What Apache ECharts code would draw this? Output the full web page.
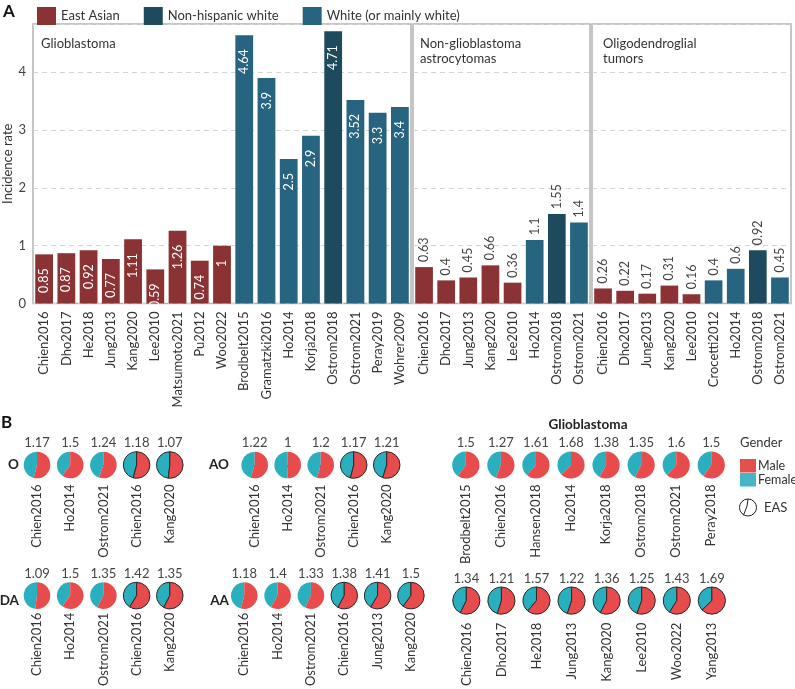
<!DOCTYPE html>
<html><head><meta charset="utf-8">
<script src="https://cdn.jsdelivr.net/npm/echarts@6/dist/echarts.min.js"></script>
<style>html,body{margin:0;padding:0;background:#fff}#c{width:795px;height:689px}</style>
</head><body><div id="c"></div>
<script>
// ---------- Panel A data ----------
const gbStudies = ["Chien2016","Dho2017","He2018","Jung2013","Kang2020","Lee2010","Matsumoto2021","Pu2012","Woo2022","Brodbelt2015","Gramatzki2016","Ho2014","Korja2018","Ostrom2018","Ostrom2021","Peray2019","Wohrer2009"];
const gbRates = [0.85,0.87,0.92,0.77,1.11,0.59,1.26,0.74,1,4.64,3.9,2.5,2.9,4.71,3.52,3.3,3.4];
const gbGroups = ["EA","EA","EA","EA","EA","EA","EA","EA","EA","W","W","W","W","NHW","W","W","W"];

const ngaStudies = ["Chien2016","Dho2017","Jung2013","Kang2020","Lee2010","Ho2014","Ostrom2018","Ostrom2021"];
const ngaRates = [0.63,0.4,0.45,0.66,0.36,1.1,1.55,1.4];
const ngaGroups = ["EA","EA","EA","EA","EA","W","NHW","W"];

const oliStudies = ["Chien2016","Dho2017","Jung2013","Kang2020","Lee2010","Crocetti2012","Ho2014","Ostrom2018","Ostrom2021"];
const oliRates = [0.26,0.22,0.17,0.31,0.16,0.4,0.6,0.92,0.45];
const oliGroups = ["EA","EA","EA","EA","EA","W","W","NHW","W"];

const yTicks = [0,1,2,3,4];
const groupKeys = ["EA","NHW","W"];
const groupNames = {EA:"East Asian", NHW:"Non-hispanic white", W:"White (or mainly white)"};

// ---------- Panel B data (male:female ratio) ----------
const oStudies = ["Chien2016","Ho2014","Ostrom2021","Chien2016","Kang2020"];
const oRatios = [1.17,1.5,1.24,1.18,1.07];
const oEas = [0,0,0,1,1];
const aoStudies = ["Chien2016","Ho2014","Ostrom2021","Chien2016","Kang2020"];
const aoRatios = [1.22,1,1.2,1.17,1.21];
const aoEas = [0,0,0,1,1];
const daStudies = ["Chien2016","Ho2014","Ostrom2021","Chien2016","Kang2020"];
const daRatios = [1.09,1.5,1.35,1.42,1.35];
const daEas = [0,0,0,1,1];
const aaStudies = ["Chien2016","Ho2014","Ostrom2021","Chien2016","Jung2013","Kang2020"];
const aaRatios = [1.18,1.4,1.33,1.38,1.41,1.5];
const aaEas = [0,0,0,1,1,1];
const gbwStudies = ["Brodbelt2015","Chien2016","Hansen2018","Ho2014","Korja2018","Ostrom2018","Ostrom2021","Peray2018"];
const gbwRatios = [1.5,1.27,1.61,1.68,1.38,1.35,1.6,1.5];
const gbwEas = [0,0,0,0,0,0,0,0];
const gbeStudies = ["Chien2016","Dho2017","He2018","Jung2013","Kang2020","Lee2010","Woo2022","Yang2013"];
const gbeRatios = [1.34,1.21,1.57,1.22,1.36,1.25,1.43,1.69];
const gbeEas = [1,1,1,1,1,1,1,1];

// ---------- styles ----------
const FONT = "Lato";
const COLORS = {EA:"#8B3234", NHW:"#1E4A5E", W:"#27647F"};
const MALE = "#E84B4B", FEMALE = "#2AAFBF";
const TXT = "#333";

const panelsA = [
  {studies:gbStudies, rates:gbRates, groups:gbGroups, inside:true, left:32, width:379},
  {studies:ngaStudies, rates:ngaRates, groups:ngaGroups, inside:false, left:413, width:177},
  {studies:oliStudies, rates:oliRates, groups:oliGroups, inside:false, left:592, width:199}
];

const grid = [], xAxis = [], yAxis = [], series = [];

panelsA.forEach((p, k) => {
  grid.push({left:p.left, top:24, width:p.width, height:279.5, show:true, borderColor:"#b3b3b3", borderWidth:1.5, backgroundColor:"transparent"});
  xAxis.push({type:"category", gridIndex:k, data:p.studies,
    axisLabel:{rotate:90, interval:0, fontSize:13, color:TXT, margin:8, fontFamily:FONT},
    axisTick:{show:false}, axisLine:{show:false}});
  yAxis.push({type:"value", gridIndex:k, min:yTicks[0], max:4.835, interval:1,
    name: k===0 ? "Incidence rate" : "", nameLocation:"middle", nameGap:19,
    nameTextStyle:{fontSize:13, color:TXT, fontFamily:FONT},
    splitLine:{show:true, lineStyle:{type:[5,4], color:"#d4d4d4", width:1}},
    axisLine:{show:false}, axisTick:{show:false},
    axisLabel:{show:k===0, showMaxLabel:false, fontSize:13, color:"#444", margin:7, fontFamily:FONT}});
  groupKeys.forEach(g => {
    series.push({type:"bar", name:groupNames[g], xAxisIndex:k, yAxisIndex:k,
      barGap:"-100%", barCategoryGap:"20%",
      itemStyle:{color:COLORS[g]},
      data:p.rates.map((v,i) => p.groups[i]===g ? v : "-"),
      label: p.inside ?
        {show:true, position:"insideTop", distance:14, rotate:90, align:"right", verticalAlign:"middle", color:"#fff", fontSize:12.5, fontFamily:FONT} :
        {show:true, position:"top", distance:5, rotate:90, align:"left", verticalAlign:"middle", color:"#444", fontSize:12.5, fontFamily:FONT},
      emphasis:{disabled:true}
    });
  });
});

// ---------- Panel B: pie glyphs in category grids ----------
const pieGroups = [
  {studies:oStudies, ratios:oRatios, eas:oEas, left:20.4, width:166, top:451.5, margin:6, r:13.3},
  {studies:aoStudies, ratios:aoRatios, eas:aoEas, left:238.2, width:165, top:451.5, margin:6, r:13.3},
  {studies:gbwStudies, ratios:gbwRatios, eas:gbwEas, left:448.3, width:280.5, top:451.5, margin:6, r:13.6},
  {studies:daStudies, ratios:daRatios, eas:daEas, left:20.4, width:166, top:587.5, margin:9, r:13.3},
  {studies:aaStudies, ratios:aaRatios, eas:aaEas, left:227.6, width:200, top:587.5, margin:9, r:13.3},
  {studies:gbeStudies, ratios:gbeRatios, eas:gbeEas, left:448.8, width:280.6, top:587.5, margin:9, r:13.6}
];

pieGroups.forEach((g, j) => {
  const k = panelsA.length + j;
  grid.push({left:g.left, top:g.top, width:g.width, height:27, show:false});
  xAxis.push({type:"category", gridIndex:k, data:g.studies,
    axisLabel:{rotate:90, interval:0, fontSize:13, color:TXT, margin:g.margin, fontFamily:FONT},
    axisTick:{show:true, alignWithLabel:true, length:2.5, lineStyle:{color:"#666"}},
    axisLine:{show:false}});
  yAxis.push({type:"value", gridIndex:k, min:-1, max:1, show:false});
  const R = g.r;
  series.push({type:"custom", name:"pies"+j, xAxisIndex:k, yAxisIndex:k,
    data:g.ratios.map((v,i) => [i, 0, v, g.eas[i]]),
    encode:{x:0, y:1},
    renderItem:function(params, api){
      const p = api.coord([api.value(0), api.value(1)]);
      const ratio = api.value(2), eas = api.value(3);
      const frac = ratio/(1+ratio);
      const a0 = -Math.PI/2, a1 = a0 + 2*Math.PI*frac;
      const stroke = eas ? {stroke:"#2a2a2a", lineWidth:1} : {stroke:null, lineWidth:0};
      return {type:"group", children:[
        {type:"sector", shape:{cx:p[0], cy:p[1], r0:0, r:R, startAngle:a1, endAngle:a0+2*Math.PI, clockwise:true}, style:Object.assign({fill:FEMALE}, stroke)},
        {type:"sector", shape:{cx:p[0], cy:p[1], r0:0, r:R, startAngle:a0, endAngle:a1, clockwise:true}, style:Object.assign({fill:MALE}, stroke)},
        {type:"text", style:{text:String(ratio), x:p[0], y:p[1]-R-8.5, align:"center", verticalAlign:"middle", fill:"#444", fontSize:13, fontFamily:FONT}}
      ]};
    }
  });
});

const graphic = [
  {type:"text", left:3, top:3, style:{text:"A", fontSize:17, fontWeight:"bold", fill:"#111", fontFamily:FONT}},
  {type:"text", left:1, top:414, style:{text:"B", fontSize:17, fontWeight:"bold", fill:"#111", fontFamily:FONT}},
  {type:"text", left:41, top:37, style:{text:"Glioblastoma", fontSize:13, fill:TXT, fontFamily:FONT}},
  {type:"text", left:420, top:37, style:{text:"Non-glioblastoma\nastrocytomas", fontSize:13, lineHeight:14.5, fill:TXT, fontFamily:FONT}},
  {type:"text", left:603, top:37, style:{text:"Oligodendroglial\ntumors", fontSize:13, lineHeight:14.5, fill:TXT, fontFamily:FONT}},
  {type:"text", x:588, y:425, style:{text:"Glioblastoma", fontSize:13.5, fontWeight:"bold", fill:"#222", align:"center", verticalAlign:"middle", fontFamily:FONT}},
  {type:"text", x:19, y:465, style:{text:"O", fontSize:13.5, fontWeight:"bold", fill:"#222", align:"right", verticalAlign:"middle", fontFamily:FONT}},
  {type:"text", x:229, y:465, style:{text:"AO", fontSize:13.5, fontWeight:"bold", fill:"#222", align:"right", verticalAlign:"middle", fontFamily:FONT}},
  {type:"text", x:19, y:601, style:{text:"DA", fontSize:13.5, fontWeight:"bold", fill:"#222", align:"right", verticalAlign:"middle", fontFamily:FONT}},
  {type:"text", x:229, y:601, style:{text:"AA", fontSize:13.5, fontWeight:"bold", fill:"#222", align:"right", verticalAlign:"middle", fontFamily:FONT}},
  {type:"text", x:740, y:443, style:{text:"Gender", fontSize:13, fill:TXT, verticalAlign:"middle", fontFamily:FONT}},
  {type:"rect", shape:{x:740, y:459, width:16, height:13.5}, style:{fill:"#E0524B"}},
  {type:"rect", shape:{x:740, y:473, width:16, height:13.5}, style:{fill:"#45B5C7"}},
  {type:"text", x:758, y:465.5, style:{text:"Male", fontSize:12.5, fill:TXT, verticalAlign:"middle", fontFamily:FONT}},
  {type:"text", x:758, y:480, style:{text:"Female", fontSize:12.5, fill:TXT, verticalAlign:"middle", fontFamily:FONT}},
  {type:"circle", shape:{cx:748, cy:507.5, r:8.5}, style:{fill:"none", stroke:"#222", lineWidth:1}},
  {type:"polyline", shape:{points:[[748,499],[747,506],[743.5,515.3]]}, style:{fill:"none", stroke:"#222", lineWidth:1}},
  {type:"text", x:764, y:507.5, style:{text:"EAS", fontSize:13, fill:TXT, verticalAlign:"middle", fontFamily:FONT}}
];

const chart = echarts.init(document.getElementById("c"), null, {renderer:"canvas"});
chart.setOption({
  animation:false,
  backgroundColor:"#fff",
  textStyle:{fontFamily:FONT},
  legend:{data:groupKeys.map(g=>groupNames[g]), left:32, top:2, icon:"rect", itemWidth:19, itemHeight:18, itemGap:24,
    textStyle:{fontSize:13, color:TXT, fontFamily:FONT}, selectedMode:false},
  grid, xAxis, yAxis, series, graphic
});
</script></body></html>
